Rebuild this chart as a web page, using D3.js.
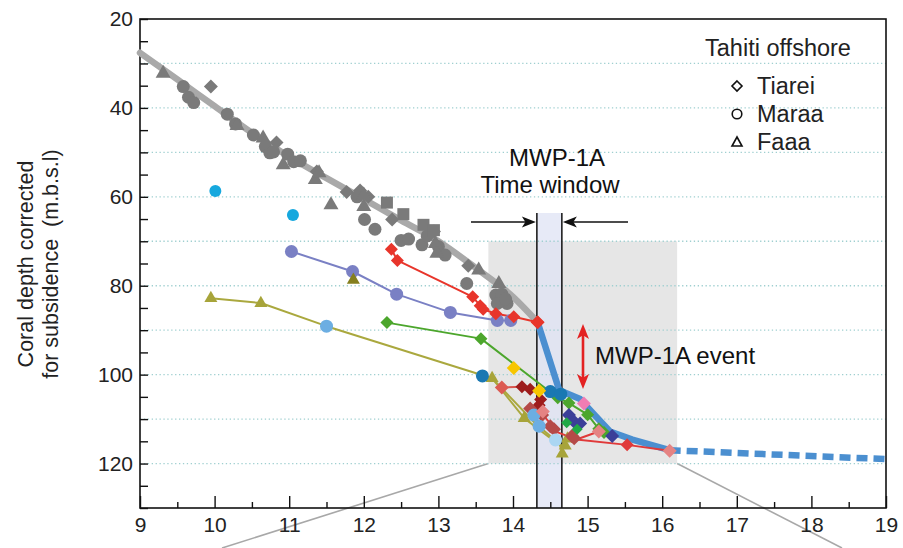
<!DOCTYPE html>
<html>
<head>
<meta charset="utf-8">
<script src="https://cdn.jsdelivr.net/npm/d3@7"></script>
<style>
  html, body { margin: 0; padding: 0; background: #fff; }
  svg { display: block; overflow: visible; font-family: "Liberation Sans", Arial, Helvetica, sans-serif; }
</style>
</head>
<body>
<svg id="chart" width="903" height="548"></svg>
<script>
// ---- Data: age (ka BP) vs coral depth corrected for subsidence (m) ----
const xTicks = [9, 10, 11, 12, 13, 14, 15, 16, 17, 18, 19];
const yTickLabels = [20, 40, 60, 80, 100, 120];
const gridDepths = [30, 40, 50, 60, 70, 80, 90, 100, 110, 120];

// Tahiti offshore corals (grey)
const tiarei = [[9.95,35.2],[10.83,47.8],[11.37,54.3],[11.77,58.9],[11.95,58.6],[12.06,60],[12.38,65.1],[12.94,67.8],[13.4,75.5]];
const maraa = [[9.58,35.2],[9.65,37.6],[9.72,38.8],[10.17,41.4],[10.28,43.6],[10.52,46.1],[10.68,48.7],[10.74,50.1],[10.79,49.9],[10.98,50.4],[11.06,52.1],[11.15,51.9],[11.91,60],[12.01,65.1],[12.15,67.3],[12.5,69.8],[12.6,69.5],[12.78,70.8],[12.85,68.8],[13.0,71.2],[13.09,73.1],[13.38,79.5],[13.77,82.1],[13.85,81.9],[13.92,84],[13.79,84],[13.9,83]];
const faaa = [[9.31,32.2],[10.3,44],[10.65,46.8],[10.92,52.8],[11.35,56.1],[11.4,54.6],[11.56,61.8],[12.0,62.2],[12.0,59.6],[12.96,70.5],[12.98,72.7],[13.54,76.5],[13.81,79.5]];
const squareSites = [[12.31,61.3],[12.53,63.9],[12.8,66.3],[12.94,67.5]];
const tahitiTrend = [[9,27.6],[9.5,33.6],[10,39.6],[10.5,45.6],[11,51],[11.5,55.8],[12,60.5],[12.5,65.3],[13,70],[13.5,76],[14,82.5],[14.33,88.2]];

// Deglacial sea-level curve through MWP-1A
const seaLevelCurve = [[14.33,88.2],[14.62,103.5],[14.9,105.5],[15.05,108.3],[15.3,112.8],[15.6,114.6],[16.1,117]];
const seaLevelExtension = [[16.1,117],[19,119]];

// Other records
const cyanPoints = [[10.01,58.7],[11.05,64.1]];
const purpleSeries = [[11.03,72.3],[11.85,76.8],[12.44,81.9],[13.16,86],[13.79,87.8],[13.97,87.8]];
const darkOliveLone = [[11.86,78.7]];
const redSeries = [[12.37,71.8],[12.45,74.3],[13.46,82.5],[13.56,84.5],[13.6,85.3],[13.77,86.3],[14.01,87],[14.33,88.2]];
const greenSeries = [[12.31,88.3],[13.57,91.9],[14.6,105.2],[14.75,106.4],[15.0,109],[15.15,112.2],[15.22,113]];
const oliveSeries = [[9.95,82.8],[10.62,83.9],[11.5,89.1],[13.72,100.8],[14.15,109.8],[14.48,114],[14.7,116.5]];
const oliveBranch = [[13.72,100.8],[14.3,111],[14.62,115.5],[14.68,118.2]];
const oliveMarkers = [[9.95,82.8],[10.62,83.9],[13.72,100.8],[14.15,109.8],[14.73,114.4],[14.7,116],[14.66,117.8]];
const lightBlueCircles = [[11.5,89.1],[14.28,109.1],[14.35,111.6]];
const paleBlueCircles = [[14.57,114.7]];
const tealCircles = [[13.59,100.3],[14.5,103.8],[14.64,104.4]];
const yellowDiamonds = [[14.01,98.5],[14.35,103.6]];
const salmonSeries = [[13.85,102.9],[14.12,102.7],[14.23,103.3]];
const salmonMarkers = [[13.85,102.9]];
const darkRedDiamonds = [[14.12,102.7],[14.23,103.3],[14.37,105.6],[14.35,106.9]];
const brownDiamonds = [[14.23,107.6],[14.39,109.1],[14.5,111.6],[14.55,112.3],[14.79,113.8],[14.82,114.3]];
const redSeries2 = [[14.3,106.5],[14.45,110],[14.6,113],[14.85,114.6],[15.15,112.8]];
const redSeries3 = [[14.85,114.6],[15.53,115.8],[16.1,117.1]];
const redDiamonds2 = [[15.53,115.8]];
const pinkSalmonDiamonds = [[15.15,112.8],[16.1,117.1],[14.4,108.3]];
const pinkDiamonds = [[14.95,106.5]];
const navyDiamonds = [[14.75,109.1],[14.82,110.6],[14.9,111],[15.33,113.8]];
const smallGreenDiamonds = [[14.72,110.8],[14.86,112.3]];

// MWP-1A time window and zoom box
const timeWindow = [14.32, 14.655];
const zoomBox = { x: [13.67, 16.2], y: [70, 120] };

// ---- Scales ----
const svg = d3.select("#chart");
const x = d3.scaleLinear().domain([9, 19]).range([140, 886]);
const y = d3.scaleLinear().domain([20, 130]).range([19, 508]);
const line = d3.line().x(d => x(d[0])).y(d => y(d[1]));
const smooth = d3.line().x(d => x(d[0])).y(d => y(d[1])).curve(d3.curveMonotoneX);

// zoom box connector lines (behind everything)
svg.append("line").attr("x1", x(zoomBox.x[0])).attr("y1", y(zoomBox.y[1]))
  .attr("x2", 222).attr("y2", 548).attr("stroke", "#a8a8a8").attr("stroke-width", 1.6);
svg.append("line").attr("x1", x(zoomBox.x[1])).attr("y1", y(zoomBox.y[1]))
  .attr("x2", 842).attr("y2", 548).attr("stroke", "#a8a8a8").attr("stroke-width", 1.6);

// grey zoom box
svg.append("rect")
  .attr("x", x(zoomBox.x[0])).attr("y", y(zoomBox.y[0]))
  .attr("width", x(zoomBox.x[1]) - x(zoomBox.x[0]))
  .attr("height", y(zoomBox.y[1]) - y(zoomBox.y[0]))
  .attr("fill", "#e6e6e6");

// time window band
const bandTop = 213;
svg.append("rect")
  .attr("x", x(timeWindow[0])).attr("y", bandTop)
  .attr("width", x(timeWindow[1]) - x(timeWindow[0]))
  .attr("height", y(130) - bandTop)
  .attr("fill", "#dfe3f4").attr("fill-opacity", 0.75);

// gridlines
svg.append("g").selectAll("line").data(gridDepths).join("line")
  .attr("x1", x(9)).attr("x2", x(19))
  .attr("y1", d => y(d)).attr("y2", d => y(d))
  .attr("stroke", "#9fcfd0").attr("stroke-width", 1.3)
  .attr("stroke-dasharray", "1.3,2.6");

// time window edges
timeWindow.forEach(t => {
  svg.append("line").attr("x1", x(t)).attr("x2", x(t))
    .attr("y1", bandTop).attr("y2", y(130))
    .attr("stroke", "#111").attr("stroke-width", 1.5);
});

// ---- Axes ----
const yAxis = d3.axisLeft(y)
  .tickValues(d3.range(20, 131, 5))
  .tickSizeInner(-8).tickSizeOuter(0).tickPadding(7)
  .tickFormat(d => yTickLabels.includes(d) ? d : "");
const gy = svg.append("g").attr("transform", `translate(${x(9)},0)`).call(yAxis);
gy.select(".domain").remove();
gy.selectAll(".tick line").attr("stroke", "#111").attr("stroke-width", 1.4);
gy.selectAll(".tick text").attr("font-size", 21).attr("fill", "#222")
  .attr("font-family", "Liberation Sans, Arial, sans-serif");

const xAxis = d3.axisBottom(x)
  .tickValues(d3.range(9, 19.01, 0.5))
  .tickSizeInner(-12).tickSizeOuter(0).tickPadding(9)
  .tickFormat(d => xTicks.includes(d) ? d : "");
const gx = svg.append("g").attr("transform", `translate(0,${y(130)})`).call(xAxis);
gx.select(".domain").remove();
gx.selectAll(".tick line").attr("stroke", "#111").attr("stroke-width", 1.4)
  .attr("y2", d => Number.isInteger(d) ? -12 : -6);
gx.selectAll(".tick text").attr("font-size", 21).attr("fill", "#222")
  .attr("font-family", "Liberation Sans, Arial, sans-serif");

// frame
svg.append("rect").attr("x", x(9)).attr("y", y(20))
  .attr("width", x(19) - x(9)).attr("height", y(130) - y(20))
  .attr("fill", "none").attr("stroke", "#111").attr("stroke-width", 1.6);

// ---- Marker helpers ----
function markers(data, shape, color, size) {
  const g = svg.append("g");
  data.forEach(d => {
    const cx = x(d[0]), cy = y(d[1]);
    if (shape === "circle") {
      g.append("circle").attr("cx", cx).attr("cy", cy).attr("r", size).attr("fill", color);
    } else if (shape === "diamond") {
      g.append("path").attr("d", `M${cx},${cy - size}L${cx + size},${cy}L${cx},${cy + size}L${cx - size},${cy}Z`).attr("fill", color);
    } else if (shape === "triangle") {
      const h = size * 1.732 / 2;
      g.append("path").attr("d", `M${cx},${cy - h * 0.66}L${cx + size / 2},${cy + h * 0.34}L${cx - size / 2},${cy + h * 0.34}Z`).attr("fill", color);
    } else if (shape === "square") {
      g.append("rect").attr("x", cx - size / 2).attr("y", cy - size / 2)
        .attr("width", size).attr("height", size).attr("fill", color);
    }
  });
}
function path(data, color, width, gen) {
  svg.append("path").datum(data).attr("d", (gen || line))
    .attr("fill", "none").attr("stroke", color).attr("stroke-width", width)
    .attr("stroke-linejoin", "round").attr("stroke-linecap", "round");
}

// ---- Tahiti trend and points ----
path(tahitiTrend, "#a9a9a9", 6.5, smooth);
const grey = "#7a7a7a";
markers(maraa, "circle", grey, 6.5);
markers(tiarei, "diamond", grey, 7);
markers(faaa, "triangle", grey, 15);
markers(squareSites, "square", grey, 12);

// ---- Sea-level curve ----
path(seaLevelCurve, "#4b8fd0", 6.5);
svg.append("path").datum(seaLevelExtension).attr("d", line)
  .attr("fill", "none").attr("stroke", "#4b8fd0").attr("stroke-width", 6.5)
  .attr("stroke-dasharray", "11,6");

// ---- Other series ----
path(purpleSeries, "#7a80c4", 2);
path(redSeries, "#e8352b", 2);
path(greenSeries, "#4ca62c", 2);
path(oliveSeries, "#aaa83e", 2);
path(oliveBranch, "#aaa83e", 2);
path(salmonSeries, "#d9564e", 2);
path(redSeries2, "#e03a3a", 2);
path(redSeries3, "#e03a3a", 2);

markers(cyanPoints, "circle", "#16a8de", 6);
markers(purpleSeries, "circle", "#7a80c4", 6.5);
markers(darkOliveLone, "triangle", "#857f1e", 13);
markers(redSeries, "diamond", "#e8352b", 6.5);
markers(greenSeries, "diamond", "#4ca62c", 6.5);
markers(oliveMarkers, "triangle", "#a7a43a", 13);
markers(salmonMarkers, "diamond", "#dc5a52", 7);
markers(darkRedDiamonds, "diamond", "#9d1c1c", 6.5);
markers(brownDiamonds, "diamond", "#b54a48", 7);
markers(lightBlueCircles, "circle", "#6caee2", 6.5);
markers(paleBlueCircles, "circle", "#abd6f2", 6.5);
markers(tealCircles, "circle", "#1a78b2", 6.5);
markers(yellowDiamonds, "diamond", "#f7c600", 7);
markers(redDiamonds2, "diamond", "#e03a3a", 6.5);
markers(pinkSalmonDiamonds, "diamond", "#e58383", 7);
markers(pinkDiamonds, "diamond", "#f07db3", 7);
markers(navyDiamonds, "diamond", "#3b3f98", 7);
markers(smallGreenDiamonds, "diamond", "#21a846", 5.5);
markers([[14.33, 88.2]], "diamond", "#e8352b", 7);

// ---- Annotations ----
const textFont = "Liberation Sans, Arial, sans-serif";
svg.append("text").attr("x", 557).attr("y", 166).attr("text-anchor", "middle")
  .attr("font-size", 24).attr("fill", "#111").attr("font-family", textFont).text("MWP-1A");
svg.append("text").attr("x", 550).attr("y", 193).attr("text-anchor", "middle")
  .attr("font-size", 24).attr("fill", "#111").attr("font-family", textFont).text("Time window");

function arrowHead(tipX, tipY, dir, len, half, color) {
  // dir: unit vector pointing toward tip
  const [dx, dy] = dir;
  const bx = tipX - dx * len, by = tipY - dy * len;
  const px = -dy, py = dx;
  svg.append("path")
    .attr("d", `M${tipX},${tipY}L${bx + px * half},${by + py * half}L${bx + dx * len * 0.25},${by + dy * len * 0.25}L${bx - px * half},${by - py * half}Z`)
    .attr("fill", color);
}
const arrowY = 222;
svg.append("line").attr("x1", 471).attr("x2", x(timeWindow[0]) - 4).attr("y1", arrowY).attr("y2", arrowY)
  .attr("stroke", "#111").attr("stroke-width", 1.6);
arrowHead(x(timeWindow[0]) - 1, arrowY, [1, 0], 14, 5.5, "#111");
svg.append("line").attr("x1", 628).attr("x2", x(timeWindow[1]) + 4).attr("y1", arrowY).attr("y2", arrowY)
  .attr("stroke", "#111").attr("stroke-width", 1.6);
arrowHead(x(timeWindow[1]) + 1, arrowY, [-1, 0], 14, 5.5, "#111");

// MWP-1A event double arrow
const evX = 583;
svg.append("line").attr("x1", evX).attr("x2", evX).attr("y1", 332).attr("y2", 380)
  .attr("stroke", "#e32222").attr("stroke-width", 2.6);
arrowHead(evX, 324, [0, -1], 15, 6, "#e32222");
arrowHead(evX, 389, [0, 1], 15, 6, "#e32222");
svg.append("text").attr("x", 595).attr("y", 364)
  .attr("font-size", 24).attr("fill", "#111").attr("font-family", textFont).text("MWP-1A event");

// ---- Legend ----
svg.append("text").attr("x", 778).attr("y", 56).attr("text-anchor", "middle")
  .attr("font-size", 23.5).attr("fill", "#222").attr("font-family", textFont).text("Tahiti offshore");
const legendItems = [
  { label: "Tiarei", shape: "diamond", cy: 86 },
  { label: "Maraa", shape: "circle", cy: 114 },
  { label: "Faaa", shape: "triangle", cy: 142 }
];
legendItems.forEach(it => {
  const cx = 737;
  if (it.shape === "diamond") {
    svg.append("path").attr("d", `M${cx},${it.cy - 5}L${cx + 5},${it.cy}L${cx},${it.cy + 5}L${cx - 5},${it.cy}Z`)
      .attr("fill", "none").attr("stroke", "#111").attr("stroke-width", 1.6);
  } else if (it.shape === "circle") {
    svg.append("circle").attr("cx", cx).attr("cy", it.cy).attr("r", 4.8)
      .attr("fill", "none").attr("stroke", "#111").attr("stroke-width", 1.6);
  } else {
    svg.append("path").attr("d", `M${cx},${it.cy - 5}L${cx + 5},${it.cy + 4}L${cx - 5},${it.cy + 4}Z`)
      .attr("fill", "none").attr("stroke", "#111").attr("stroke-width", 1.6);
  }
  svg.append("text").attr("x", 757).attr("y", it.cy + 8)
    .attr("font-size", 23.5).attr("fill", "#222").attr("font-family", textFont).text(it.label);
});

// ---- Y axis title ----
const yt = svg.append("text").attr("transform", "translate(33,264) rotate(-90)")
  .attr("text-anchor", "middle").attr("font-size", 21.5).attr("fill", "#222").attr("font-family", textFont);
yt.append("tspan").attr("x", 0).attr("dy", 0).text("Coral depth corrected");
yt.append("tspan").attr("x", 0).attr("dy", 25).attr("xml:space", "preserve").text("for subsidence  (m.b.s.l)");
</script>
</body>
</html>
